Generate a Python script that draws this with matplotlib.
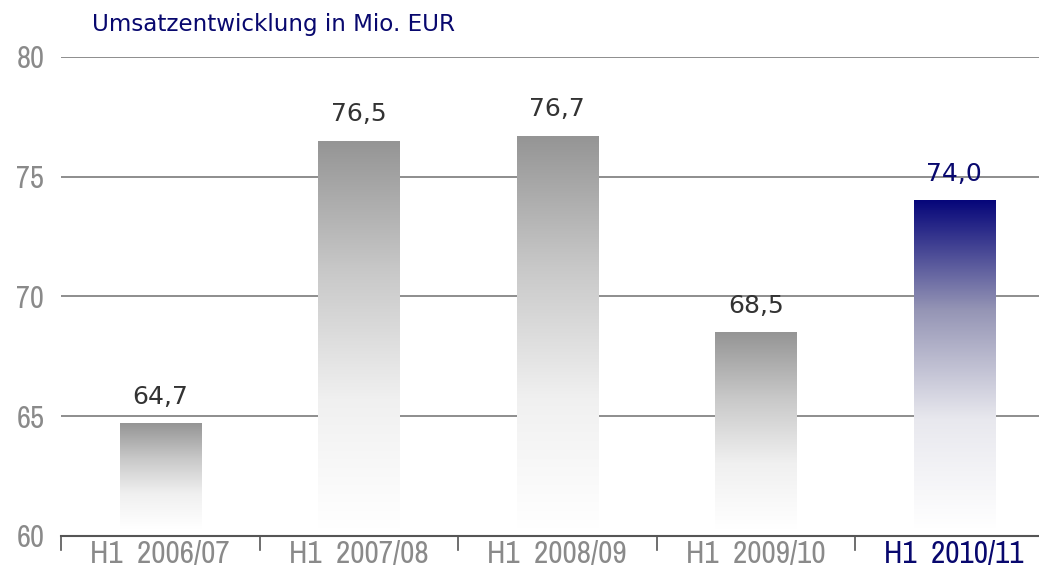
import numpy as np
import matplotlib.pyplot as plt
from matplotlib.colors import LinearSegmentedColormap

categories = ['H1  2006/07', 'H1  2007/08', 'H1  2008/09', 'H1  2009/10', 'H1  2010/11']
values = [64.7, 76.5, 76.7, 68.5, 74.0]
value_labels = ['64,7', '76,5', '76,7', '68,5', '74,0']
yticks = [60, 65, 70, 75, 80]

navy = '#08086e'
grey_txt = '#8a8a8a'
narrow = ['Archivo Narrow', 'DejaVu Sans']

fig = plt.figure(figsize=(10.39, 5.88), dpi=100)
# axis runs past the right edge of the figure, like the original
ax = fig.add_axes([61 / 1039, 52 / 588, 992.5 / 1039, 479 / 588])

x = np.arange(len(values))
base = 60.3
bars = ax.bar(x, np.array(values) - base, bottom=base, width=0.41, color='none', zorder=3)

grey_cmap = LinearSegmentedColormap.from_list('g', ['#ffffff', '#f0f0f0', '#c8c8c8', '#959595'])
blue_cmap = LinearSegmentedColormap.from_list('b', ['#ffffff', '#e8e8ee', '#9595b5', '#06067a'])
grad = np.linspace(0, 1, 256).reshape(-1, 1)
for i, b in enumerate(bars):
    cmap = blue_cmap if i == len(bars) - 1 else grey_cmap
    x0, y0 = b.get_x(), b.get_y()
    ax.imshow(grad, cmap=cmap, origin='lower', aspect='auto', zorder=3,
              extent=[x0, x0 + b.get_width(), y0, y0 + b.get_height()])

for i, v in enumerate(values):
    ax.text(x[i], v + 0.62, value_labels[i], ha='center', va='bottom', fontsize=18,
            color=navy if i == len(values) - 1 else '#333333', family='DejaVu Sans')

ax.set_xlim(-0.5, len(values) - 0.5)
ax.set_ylim(60, 80)
ax.set_yticks(yticks)
ax.set_yticklabels([str(t) for t in yticks], fontsize=22, color=grey_txt, family=narrow)
ax.set_xticks(x)
ax.set_xticklabels(categories, fontsize=22.5, color=grey_txt, family=narrow)
ax.get_xticklabels()[-1].set_color(navy)
ax.tick_params(axis='x', length=0, pad=3)
ax.tick_params(axis='y', length=0, pad=12)
for t in np.arange(len(values) + 1) - 0.5:
    ax.plot([t, t], [60, 59.4], color='#555555', lw=1.2, clip_on=False, zorder=4)

ax.grid(axis='y', color='#7a7a7a', lw=1.2, zorder=1)
ax.set_axisbelow(True)
for s in ['top', 'right', 'left']:
    ax.spines[s].set_visible(False)
ax.spines['bottom'].set_color('#555555')
ax.spines['bottom'].set_linewidth(1.5)

fig.text(92 / 1039, 1 - 25 / 588, 'Umsatzentwicklung in Mio. EUR', fontsize=16.6, color=navy,
         family='DejaVu Sans', va='center', ha='left')

fig.savefig('out.png', dpi=100)
